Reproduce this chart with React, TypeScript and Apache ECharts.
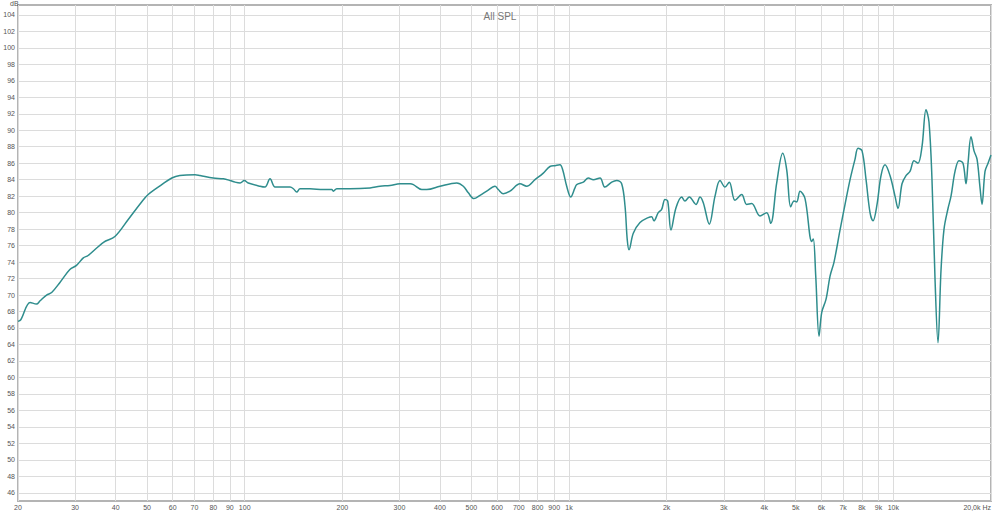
import React, { useEffect, useRef } from "react";
import * as echarts from "echarts";

const freqHz = [
  20, 20.4, 21.8, 22.8, 23.4, 24.5, 25.4, 26.9, 28.9, 30.3, 31.8, 32.9, 36.7, 39.8, 43.8, 48.1, 50.4, 55.5, 59.6, 63.1, 70.3,
  72.8, 80, 85.9, 90.1, 93.4, 96.8, 99.7, 102.6, 111.5, 115.5, 119.7, 124, 128.5, 138, 141.3, 144.7, 148.1, 158.9, 174.7,
  185.5, 187.6, 192.2, 211.2, 243.4, 261.3, 280.5, 301.3, 323.5, 331.2, 351.5, 364.2, 400.2, 450.5, 472.1, 489.2, 509.3,
  531.5, 557.4, 591.2, 605.2, 626.9, 657.4, 706, 740.3, 785.3, 833, 873.5, 905.2, 937.9, 956, 983.6, 1011.9, 1043, 1056,
  1107, 1147, 1188, 1246, 1290, 1354, 1403, 1453, 1488, 1512, 1531, 1578, 1655, 1755, 1798, 1827, 1884, 1930, 1976, 2015,
  2062, 2137, 2225, 2278, 2349, 2463, 2534, 2594, 2707, 2819, 2921, 3026, 3120, 3249, 3407, 3530, 3658, 3880, 4069, 4186,
  4368, 4558, 4690, 4825, 4940, 5036, 5155, 5341, 5602, 5665, 5763, 5900, 6014, 6201, 6379, 6562, 6849, 7096, 7353, 7618,
  7783, 8007, 8237, 8473, 8656, 8905, 9160, 9424, 9764, 10117, 10336, 10633, 10939, 11253, 11578, 11911, 12253, 12606,
  12878, 13155, 13439, 13729, 14025, 14328, 14740, 15058, 15491, 15937, 16396, 16749, 16989, 17355, 17729, 18112, 18503,
  18765, 19169, 19582, 20000,
];

const splDb = [
  66.8, 67.0, 69.1, 68.9, 69.3, 70.0, 70.3, 71.5, 73.1, 73.6, 74.5, 74.8, 76.4, 77.1, 79.2, 81.3, 82.2, 83.4, 84.2, 84.5, 84.6,
  84.5, 84.2, 84.1, 83.9, 83.7, 83.6, 83.9, 83.6, 83.2, 83.1, 84.1, 83.1, 83.1, 83.1, 82.9, 82.5, 82.9, 82.9, 82.8,
  82.8, 82.6, 82.9, 82.9, 83.0, 83.2, 83.3, 83.5, 83.5, 83.4, 82.8, 82.8, 83.2, 83.6, 83.2, 82.4, 81.7,
  82.1, 82.6, 83.2, 82.8, 82.3, 82.6, 83.5, 83.2, 84.0, 84.8, 85.6, 85.7, 85.8, 85.2, 83.2, 81.9, 83.0, 83.4,
  83.7, 84.2, 84.0, 84.2, 83.1, 83.7, 83.9, 83.5, 80.8, 76.7, 75.5, 77.5, 78.8, 79.4, 79.5, 79.0, 80.0, 80.4, 81.6, 81.4,
  77.9, 80.6, 81.9, 81.4, 81.9, 81.0, 81.9, 81.2, 78.6, 82.0, 83.9, 83.1, 83.7, 81.5, 82.2, 81.0, 81.1, 79.6, 80.0, 78.7,
  83.6, 87.2, 85.2, 80.7, 81.4, 81.3, 82.6, 81.7, 76.5, 76.8, 72.3, 65.0, 67.9, 69.5, 72.3, 74.0, 77.9, 81.0, 84.0, 86.5,
  87.8, 87.5, 84.0, 80.0, 79.0, 81.0, 84.5, 85.8, 84.5, 82.0, 80.5, 83.5, 84.5, 85.0, 86.3, 86.0, 88.0, 92.5,
  91.0, 84.0, 72.0, 64.2, 73.0, 78.0, 80.5, 82.0, 85.0, 86.3, 86.0, 83.5, 86.0, 89.2, 87.5, 86.5, 83.0,
  81.0, 85.0, 86.0, 87.0,
];

const xTickHz = [20, 30, 40, 50, 60, 70, 80, 90, 100, 200, 300, 400, 500, 600, 700, 800, 900, 1000, 2000, 3000, 4000, 5000, 6000, 7000, 8000, 9000, 10000, 20000];
const yTicksDb = [46, 48, 50, 52, 54, 56, 58, 60, 62, 64, 66, 68, 70, 72, 74, 76, 78, 80, 82, 84, 86, 88, 90, 92, 94, 96, 98, 100, 102, 104];

const FONT = "'Liberation Sans', Arial, sans-serif";

function fmtHz(v: number): string {
  const f = Math.round(Math.pow(10, v));
  if (f >= 20000) return "20,0k Hz";
  if (f >= 1000) return f / 1000 + "k";
  return String(f);
}

export default function App() {
  const ref = useRef<HTMLDivElement>(null);
  useEffect(() => {
    if (!ref.current) return;
    const chart = echarts.init(ref.current, null, { renderer: "svg" });
    const data = freqHz.map((f, i) => [Math.log10(f), splDb[i]]);
    const xVals = xTickHz.map((f) => Math.log10(f));
    chart.setOption({
      animation: false,
      backgroundColor: "#ffffff",
      title: {
        text: "All SPL",
        left: "center",
        top: 6,
        textStyle: { fontSize: 10, fontWeight: "normal", color: "#777", fontFamily: FONT },
      },
      graphic: [
        { type: "text", left: 10, top: 0, style: { text: "dB", fontSize: 7, fill: "#555", fontFamily: FONT } },
      ],
      grid: { left: 18, right: 9, top: 5, bottom: 9, show: true, borderColor: "#b4b4b4", borderWidth: 2, containLabel: false },
      xAxis: {
        type: "value",
        min: Math.log10(20),
        max: Math.log10(20000),
        axisLine: { show: false },
        axisTick: { show: false, customValues: xVals },
        axisLabel: {
          customValues: xVals,
          formatter: fmtHz,
          fontSize: 7,
          color: "#555",
          margin: 3,
          fontFamily: FONT,
          alignMaxLabel: "right",
        },
        splitLine: { show: true, lineStyle: { color: "#dcdcdc", width: 1 } },
      },
      yAxis: {
        type: "value",
        min: 45,
        max: 105.2,
        axisLine: { show: false },
        axisTick: { show: false, customValues: yTicksDb },
        axisLabel: { customValues: yTicksDb, fontSize: 7, color: "#555", margin: 3, fontFamily: FONT },
        splitLine: { show: true, lineStyle: { color: "#dcdcdc", width: 1 } },
      },
      series: [
        {
          type: "line",
          data,
          showSymbol: false,
          smooth: 0.35,
          lineStyle: { color: "#2f8d8d", width: 1.5 },
          itemStyle: { color: "#2f8d8d" },
        },
      ],
    });
    return () => chart.dispose();
  }, []);
  return <div ref={ref} style={{ position: "fixed", left: 0, top: 0, width: 1000, height: 511 }} />;
}
